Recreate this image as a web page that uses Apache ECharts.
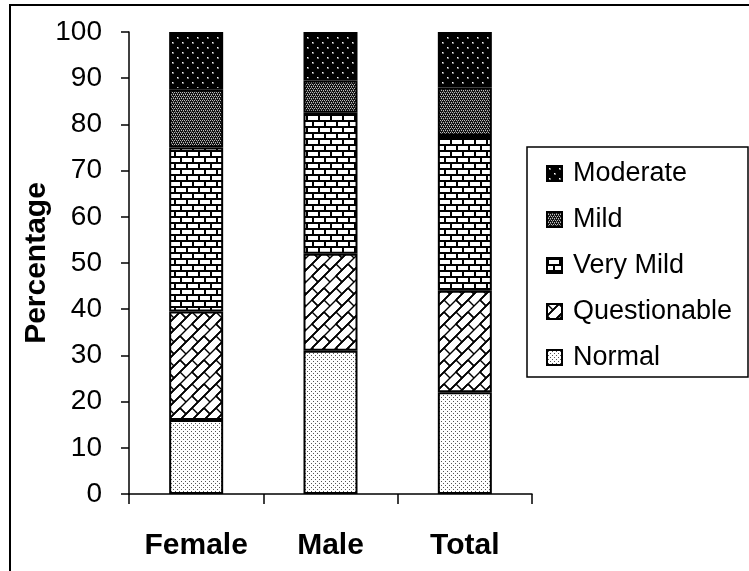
<!DOCTYPE html>
<html>
<head>
<meta charset="utf-8">
<script src="https://cdn.jsdelivr.net/npm/echarts@6/dist/echarts.min.js"></script>
<style>
  html, body { margin: 0; padding: 0; background: #fff; }
  #chart { width: 749px; height: 571px; }
</style>
</head>
<body>
<div id="chart"></div>
<script>
// Groups on the x axis
const categories = ['Female', 'Male', 'Total'];

// Share (%) of each rating within each group
const normal       = [16.0, 31.0, 22.0];
const questionable = [23.5, 21.0, 22.0];
const veryMild     = [35.5, 30.5, 33.5];
const mild         = [12.5, 7.0, 10.5];
const moderate     = [12.5, 10.5, 12.0];

// Y axis ticks
const yMin = 0, yMax = 100, yStep = 10;

// ---- monochrome fill patterns ----
function tile(w, h, draw) {
  const c = document.createElement('canvas');
  c.width = w; c.height = h;
  const g = c.getContext('2d');
  draw(g, w, h);
  return { image: c, repeat: 'repeat' };
}

// fine grey stipple
const patNormal = tile(4, 4, (g) => {
  g.fillStyle = '#fff'; g.fillRect(0, 0, 4, 4);
  g.fillStyle = '#555';
  g.fillRect(1, 1, 1, 1);
  g.fillRect(3, 3, 1, 1);
});

// diagonal brick weave
const patQuestionable = tile(24, 24, (g, T) => {
  g.fillStyle = '#fff'; g.fillRect(0, 0, T, T);
  g.strokeStyle = '#000'; g.lineWidth = 1.4;
  const segs = [];
  // long "/" courses: x + y = c
  for (let c = 0; c <= 48; c += 12) segs.push([c, 0, 0, c]);
  // short "\" joints between courses, staggered
  segs.push([0, 0, 6, 6]);
  segs.push([12, 12, 18, 18]);
  segs.push([12, 0, 18, 6]);
  segs.push([0, 12, 6, 18]);
  segs.push([24, 12, 30, 18]);
  segs.push([12, 24, 18, 30]);
  for (const s of segs) {
    for (let dx = -T; dx <= T; dx += T) {
      for (let dy = -T; dy <= T; dy += T) {
        g.beginPath();
        g.moveTo(s[0] + dx, s[1] + dy);
        g.lineTo(s[2] + dx, s[3] + dy);
        g.stroke();
      }
    }
  }
});

// horizontal bricks
const patVeryMild = tile(12, 12, (g) => {
  g.fillStyle = '#fff'; g.fillRect(0, 0, 12, 12);
  g.fillStyle = '#000';
  g.fillRect(0, 0, 12, 2);
  g.fillRect(0, 6, 12, 2);
  g.fillRect(0, 0, 2, 6);
  g.fillRect(6, 6, 2, 6);
});

// dense dark dotted weave
const patMild = tile(4, 4, (g) => {
  g.fillStyle = '#111'; g.fillRect(0, 0, 4, 4);
  g.fillStyle = '#bdbdbd';
  g.fillRect(0, 0, 1, 1);
  g.fillRect(2, 0, 1, 1);
  g.fillRect(1, 2, 1, 1);
  g.fillRect(3, 2, 1, 1);
  g.fillStyle = '#6a6a6a';
  g.fillRect(1, 1, 1, 1);
  g.fillRect(3, 3, 1, 1);
});

// black with sparse light dots
const patModerate = tile(10, 10, (g) => {
  g.fillStyle = '#000'; g.fillRect(0, 0, 10, 10);
  g.fillStyle = '#777';
  g.fillRect(2, 2, 2, 2);
  g.fillRect(7, 7, 2, 2);
  g.fillStyle = '#fff';
  g.fillRect(2, 2, 1, 1);
  g.fillRect(7, 7, 1, 1);
});

const FONT = '"Liberation Sans", Arial, sans-serif';

function barSeries(name, data, fill) {
  return {
    name: name,
    type: 'bar',
    stack: 'share',
    data: data,
    barWidth: 54,
    itemStyle: { color: fill, borderColor: '#000', borderWidth: 2 },
    emphasis: { disabled: true }
  };
}

const chart = echarts.init(document.getElementById('chart'), null, { renderer: 'canvas' });

chart.setOption({
  animation: false,
  backgroundColor: '#fff',
  textStyle: { fontFamily: FONT, color: '#000' },
  grid: { left: 129, top: 32, width: 403, height: 462, containLabel: false },
  legend: {
    orient: 'vertical',
    left: 541,
    top: 155,
    itemWidth: 15,
    itemHeight: 15,
    itemGap: 19,
    icon: 'rect',
    selectedMode: false,
    data: ['Moderate', 'Mild', 'Very Mild', 'Questionable', 'Normal'],
    textStyle: { fontFamily: FONT, fontSize: 27, lineHeight: 25, color: '#000', padding: [0, 0, 0, 6] }
  },
  xAxis: {
    type: 'category',
    data: categories,
    boundaryGap: true,
    axisLine: { lineStyle: { color: '#000', width: 1.5 } },
    axisTick: { show: true, alignWithLabel: false, length: 10, interval: 0, lineStyle: { color: '#000', width: 1.5 } },
    axisLabel: { fontFamily: FONT, fontSize: 30, fontWeight: 'bold', color: '#000', margin: 37, interval: 0 }
  },
  yAxis: {
    type: 'value',
    min: yMin,
    max: yMax,
    interval: yStep,
    name: 'Percentage',
    nameLocation: 'middle',
    nameGap: 77,
    nameMoveOverlap: false,
    nameTextStyle: { fontFamily: FONT, fontSize: 30, fontWeight: 'bold', color: '#000' },
    axisLine: { show: true, lineStyle: { color: '#000', width: 1.5 } },
    axisTick: { show: true, length: 8, lineStyle: { color: '#000', width: 1.5 } },
    axisLabel: { fontFamily: FONT, fontSize: 28, color: '#000', margin: 27 },
    splitLine: { show: false }
  },
  graphic: [
    { type: 'rect', shape: { x: 10, y: 5, width: 800, height: 700 }, style: { fill: 'none', stroke: '#000', lineWidth: 2 }, silent: true },
    { type: 'rect', shape: { x: 527, y: 147, width: 221, height: 230 }, style: { fill: 'none', stroke: '#000', lineWidth: 1.5 }, silent: true }
  ],
  series: [
    barSeries('Normal', normal, patNormal),
    barSeries('Questionable', questionable, patQuestionable),
    barSeries('Very Mild', veryMild, patVeryMild),
    barSeries('Mild', mild, patMild),
    barSeries('Moderate', moderate, patModerate)
  ]
});
</script>
</body>
</html>
